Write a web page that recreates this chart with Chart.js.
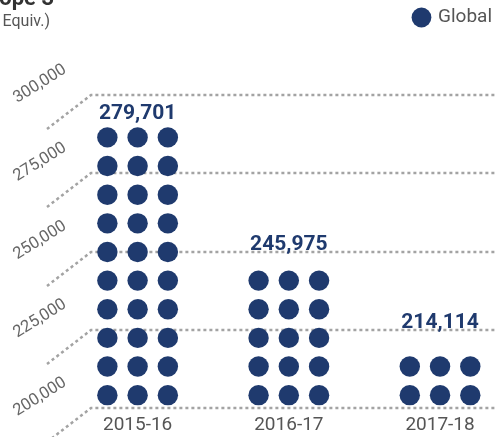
<!DOCTYPE html>
<html>
<head>
<meta charset="utf-8">
<script src="https://cdn.jsdelivr.net/npm/chart.js@4/dist/chart.umd.min.js"></script>
<style>
html, body { margin: 0; padding: 0; background: #fff; overflow: hidden; }
#wrap { width: 496px; height: 437px; position: relative; }
</style>
</head>
<body>
<div id="wrap"><canvas id="chart"></canvas></div>
<script>
const categories = ['2015-16', '2016-17', '2017-18'];
const values = [279701, 245975, 214114];
const dotRows = [10, 5, 2];
const dotCols = [-0.2, 0, 0.2];
const yTicks = [200000, 225000, 250000, 275000, 300000];
const seriesName = 'Global';
const titleText = 'GHG Emissions Scope 3';
const subtitleText = '(Tonnes CO2 Equiv.)';

const navy = '#1f3a6e';
const font = 'Roboto, "Noto Sans", sans-serif';
// one row of the pictogram, in axis units
const rowBase = 204100;
const rowStep = 9150;

const dots = [];
categories.forEach((c, i) => {
    for (let r = 0; r < dotRows[i]; r++) {
        for (const dx of dotCols) {
            dots.push({ x: i + dx, y: rowBase + r * rowStep });
        }
    }
});

const fmt = v => Number(v).toLocaleString('en-US');

// dotted "perspective" grid lines with slanted tick labels
const perspectiveGrid = {
    id: 'perspectiveGrid',
    beforeDatasetsDraw(chart) {
        const { ctx, chartArea, scales: { y } } = chart;
        ctx.save();
        ctx.strokeStyle = '#a3a3a3';
        ctx.lineWidth = 2.5;
        ctx.setLineDash([3, 3]);
        for (const t of y.ticks) {
            const py = Math.round(y.getPixelForValue(t.value));
            ctx.beginPath();
            ctx.moveTo(chartArea.left - 15, py + 34);
            ctx.lineTo(chartArea.left + 29, py);
            ctx.lineTo(chart.width, py);
            ctx.stroke();
        }
        ctx.setLineDash([]);
        ctx.fillStyle = '#666';
        ctx.font = '16.5px ' + font;
        ctx.textAlign = 'center';
        ctx.textBaseline = 'middle';
        for (const t of y.ticks) {
            const py = y.getPixelForValue(t.value);
            ctx.save();
            ctx.translate(chartArea.left - 22, py - 11);
            ctx.rotate(-32 * Math.PI / 180);
            ctx.fillText(fmt(t.value), 0, 0);
            ctx.restore();
        }
        ctx.restore();
    }
};

// totals above each stack + cropped title
const labelsAndTitle = {
    id: 'labelsAndTitle',
    afterDatasetsDraw(chart) {
        const { ctx, scales: { x, y } } = chart;
        ctx.save();
        ctx.fillStyle = navy;
        ctx.font = 'bold 21px ' + font;
        ctx.textAlign = 'center';
        ctx.textBaseline = 'middle';
        values.forEach((v, i) => {
            const top = y.getPixelForValue(rowBase + (dotRows[i] - 1) * rowStep);
            const gap = dotRows[i] > 5 ? 24 : dotRows[i] < 5 ? 44 : 36;
            ctx.fillText(fmt(v), x.getPixelForValue(i), top - gap);
        });

        ctx.textAlign = 'right';
        ctx.textBaseline = 'alphabetic';
        ctx.fillStyle = '#333';
        ctx.font = 'bold 22px ' + font;
        ctx.fillText(titleText, 54, 5);
        ctx.fillStyle = '#555';
        ctx.font = '16px ' + font;
        ctx.fillText(subtitleText, 50, 26);
        ctx.restore();
    }
};

const legendGap = {
    id: 'legendGap',
    beforeInit(chart) {
        const fit = chart.legend.fit;
        chart.legend.fit = function () {
            fit.bind(chart.legend)();
            this.height = 95;
        };
    }
};

new Chart(document.getElementById('chart'), {
    type: 'scatter',
    data: {
        datasets: [{
            label: seriesName,
            data: dots,
            backgroundColor: navy,
            borderColor: navy,
            pointRadius: 10.2,
            pointHoverRadius: 10.2,
            pointBorderWidth: 0
        }]
    },
    options: {
        responsive: true,
        maintainAspectRatio: false,
        animation: false,
        layout: { autoPadding: false, padding: { right: -4 } },
        plugins: {
            tooltip: { enabled: false },
            legend: {
                position: 'top',
                align: 'end',
                labels: {
                    usePointStyle: true,
                    pointStyle: 'circle',
                    boxWidth: 14,
                    boxHeight: 14,
                    padding: 8,
                    color: '#555',
                    font: { family: font, size: 19 }
                }
            }
        },
        scales: {
            x: {
                type: 'linear',
                min: -0.5,
                max: 2.37,
                grid: { display: false, drawTicks: false },
                border: { display: false },
                afterBuildTicks: s => { s.ticks = categories.map((c, i) => ({ value: i })); },
                afterFit: s => { s.height = 29; s.paddingLeft = 0; s.paddingRight = 0; },
                ticks: {
                    padding: 6,
                    color: '#555',
                    font: { family: font, size: 19 },
                    callback: v => categories[v]
                }
            },
            y: {
                min: yTicks[0],
                max: yTicks[yTicks.length - 1],
                grid: { display: false, drawTicks: false },
                border: { display: false },
                afterBuildTicks: s => { s.ticks = yTicks.map(v => ({ value: v })); },
                afterFit: s => { s.width = 62; },
                ticks: { display: false }
            }
        }
    },
    plugins: [legendGap, perspectiveGrid, labelsAndTitle]
});
</script>
</body>
</html>
